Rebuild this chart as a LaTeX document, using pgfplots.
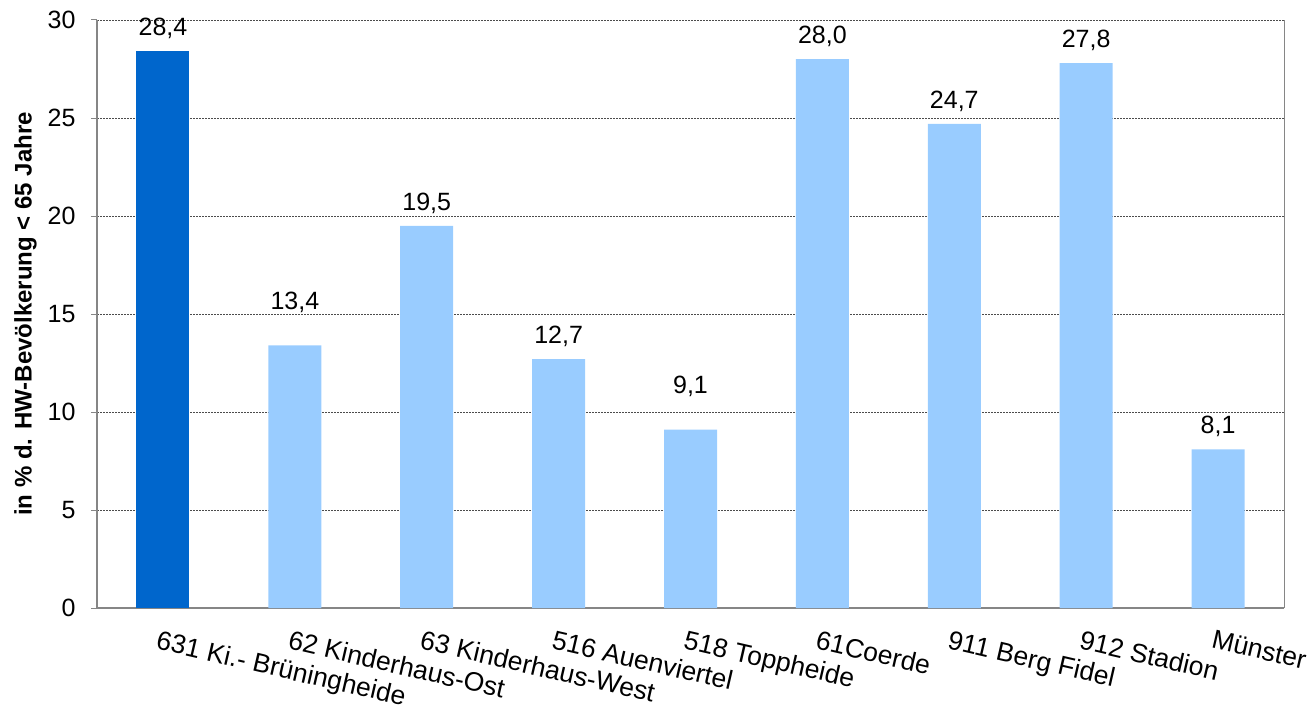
\documentclass[border=0pt]{standalone}
\usepackage{fontspec}
\setmainfont{Liberation Sans}
\usepackage{pgfplots}
\pgfplotsset{compat=1.18}
\definecolor{darkbar}{HTML}{0066CC}
\definecolor{lightbar}{HTML}{99CCFF}
\definecolor{axisgray}{HTML}{868686}
\begin{document}
\begin{tikzpicture}
\begin{axis}[
  name=ax,
  scale only axis,
  width=1187pt, height=588pt,
  xmin=-0.5, xmax=8.5,
  ymin=0, ymax=30,
  ytick={0,5,...,30},
  xtick={0,...,8},
  xticklabels={631 Ki.- Brüningheide,62 Kinderhaus-Ost,63 Kinderhaus-West,516 Auenviertel,518 Toppheide,61Coerde,911 Berg Fidel,912 Stadion,Münster},
  x tick label style={rotate=-13, anchor=north west, font=\fontsize{26.5}{31}\selectfont, inner sep=0pt, xshift=0pt, yshift=-16pt},
  y tick label style={font=\fontsize{25}{30}\selectfont, xshift=-12pt},
  /pgf/number format/assume math mode=true,
  ylabel={\bfseries in \% d. HW-Bevölkerung < 65 Jahre},
  ylabel style={font=\fontsize{24}{29}\selectfont, yshift=4pt},
  axis line style={axisgray, line width=1.3pt},
  axis x line*=bottom,
  axis y line*=left,
  ymajorgrids,
  grid style={black!70, dash pattern=on 2pt off 1pt, line width=0.6pt},
  major tick length=6pt,
  tick align=outside,
  ytick style={axisgray, line width=1pt},
  xtick style={draw=none},
  ybar, bar width=53pt, bar shift=0pt,
  nodes near coords,
  every node near coord/.append style={font=\fontsize{25}{30}\selectfont, yshift=9pt, /pgf/number format/use comma, /pgf/number format/fixed, /pgf/number format/fixed zerofill, /pgf/number format/precision=1, /pgf/number format/assume math mode=true},
  clip=false,
]
\addplot[fill=darkbar, draw=none] coordinates {(0,28.4)};
\addplot[fill=lightbar, draw=none] coordinates {(2,19.5) (3,12.7) (5,28.0) (6,24.7) (7,27.8) (8,8.1)};
\addplot[fill=lightbar, draw=none, every node near coord/.append style={yshift=20pt}] coordinates {(1,13.4) (4,9.1)};
\draw[axisgray, line width=0.8pt] (rel axis cs:1,0) -- (rel axis cs:1,1);
\end{axis}
\pgfresetboundingbox
\path[use as bounding box] ([shift={(-97pt,-101pt)}]ax.south west) rectangle ([shift={(32pt,20pt)}]ax.north east);
\end{tikzpicture}
\end{document}
